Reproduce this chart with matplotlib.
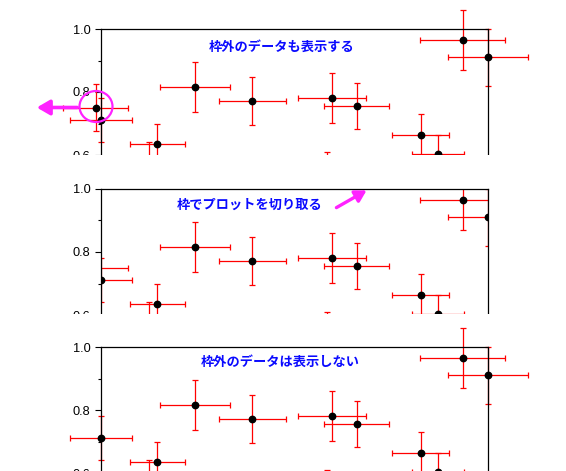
import numpy as np
import matplotlib
matplotlib.use('Agg')
import matplotlib.pyplot as plt
from matplotlib.patches import Rectangle, Ellipse, FancyArrowPatch

plt.rcParams['font.family'] = ['Liberation Sans', 'DejaVu Sans']

# data (x axis units arbitrary, frame spans 0..10)
x = np.array([-0.14, 0.0, 1.23, 1.45, 2.43, 3.91, 5.85, 5.97, 6.61, 8.26, 8.71, 9.35, 10.0])
y = np.array([0.750, 0.710, 0.570, 0.634, 0.815, 0.771, 0.540, 0.781, 0.755, 0.665, 0.603, 0.964, 0.910])
xerr = np.array([0.85, 0.79, 0.70, 0.71, 0.91, 0.87, 0.75, 0.88, 0.84, 0.73, 0.67, 1.10, 1.03])
yerr = np.array([0.074, 0.070, 0.070, 0.063, 0.079, 0.077, 0.070, 0.078, 0.074, 0.064, 0.060, 0.095, 0.090])

titles = ['枠外のデータも表示する', '枠でプロットを切り取る', '枠外のデータは表示しない']
yticks = [0.6, 0.8, 1.0]
ytick_labels = ['0.6', '0.8', '1.0']

W, H = 566, 471
fig = plt.figure(figsize=(W / 100, H / 100), dpi=100)

def fx(px):
    return px / W

def fy(py):
    return 1 - py / H

tops = [29, 189, 347]
cuts = [154.5, 313.5]
title_pos = [(282, 46.7), (250, 204.3), (280, 362.3)]
ax_h = 157.5

for i, top in enumerate(tops):
    ax = fig.add_axes([fx(101), fy(top + ax_h), 387 / W, ax_h / H])
    ax.set_zorder(2 * i + 1)
    ax.set_facecolor('none')
    ax.set_xlim(0, 10)
    ax.set_ylim(0.5, 1.0)
    ax.spines['bottom'].set_visible(False)
    for s in ['top', 'left', 'right']:
        ax.spines[s].set_linewidth(0.9)
    ax.set_xticks([])
    ax.set_yticks(yticks)
    ax.set_yticklabels(ytick_labels)
    ax.set_yticks([0.7, 0.9], minor=True)
    ax.tick_params(axis='y', which='major', length=4.5, width=0.8, labelsize=9.2, pad=3)
    ax.tick_params(axis='y', which='minor', length=2.2, width=0.8)

    if i == 2:
        keep = (x >= 0) & (x <= 10) & (y >= 0.5) & (y <= 1.0)
    else:
        keep = np.ones(len(x), dtype=bool)

    eb = ax.errorbar(x[keep], y[keep], xerr=xerr[keep], yerr=yerr[keep], fmt='none',
                     ecolor='red', elinewidth=0.9, capsize=2.1, capthick=0.9, zorder=2)
    pts, = ax.plot(x[keep], y[keep], 'o', color='black', ms=4.6, zorder=3)

    if i != 1:
        for child in eb.get_children():
            child.set_clip_on(False)
        pts.set_clip_on(False)

    fig.text(fx(title_pos[i][0]), fy(title_pos[i][1]), titles[i], color='#0a0aff',
             fontsize=9.5, fontweight='bold', family=['Noto Sans CJK JP', 'DejaVu Sans'],
             ha='center', va='center', zorder=20)

    if i < 2:
        fig.add_artist(Rectangle((0, fy(cuts[i] + 50)), 1, 50 / H, transform=fig.transFigure,
                                 facecolor='white', edgecolor='none', zorder=2 * i + 2))

magenta = '#ff22ff'
fig.add_artist(Ellipse((fx(96), fy(106.5)), 33 / W, 31 / H, transform=fig.transFigure,
                       facecolor='none', edgecolor=magenta, linewidth=1.6, zorder=20))
fig.add_artist(FancyArrowPatch((fx(80), fy(107.5)), (fx(34), fy(107.5)), transform=fig.transFigure,
                               arrowstyle='-|>,head_length=0.55,head_width=0.32', mutation_scale=14,
                               color=magenta, linewidth=2.6, zorder=20))
fig.add_artist(FancyArrowPatch((fx(334), fy(209)), (fx(369), fy(189)), transform=fig.transFigure,
                               arrowstyle='-|>,head_length=0.55,head_width=0.32', mutation_scale=12,
                               color=magenta, linewidth=2.4, zorder=20))

fig.savefig('out.png', dpi=100)
